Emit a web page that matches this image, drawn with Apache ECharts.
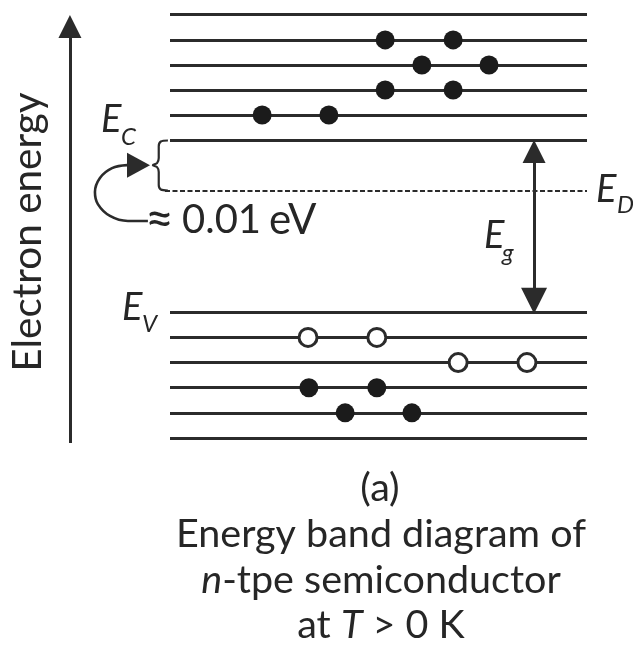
<!DOCTYPE html>
<html>
<head>
<meta charset="utf-8">
<script src="https://cdn.jsdelivr.net/npm/echarts@6/dist/echarts.min.js"></script>
<style>
html,body{margin:0;padding:0;background:#fff;}
#chart{width:633px;height:646px;}
</style>
</head>
<body>
<div id="chart"></div>
<script>
// ---- data (band position 0..100 across the band; energy in arbitrary units) ----
const bandStart = 0;
const bandEnd = 100;
const valenceLevels = [0, 1, 2, 3, 4, 5];           // Ev = 5
const conductionLevels = [11.85, 12.84, 13.84, 14.83, 15.83, 16.84]; // Ec = 11.85
const donorLevel = 9.85;
const Ev = 5;
const Ec = 11.85;
const conductionElectrons = [
  [22.1, 12.84], [38.1, 12.84],
  [51.6, 13.84], [67.9, 13.84],
  [60.4, 14.83], [76.5, 14.83],
  [51.6, 15.83], [67.9, 15.83]
];
const valenceElectrons = [
  [33.3, 2], [49.6, 2],
  [42.0, 1], [58.0, 1]
];
const holes = [
  [33.1, 4], [49.6, 4],
  [69.1, 3], [85.6, 3]
];
const energyAxisX = -24;
const energyAxisRange = [-0.2, 16.82];
const gapArrowX = 87.3;

// brace between Ec and donor level (left of band)
const bracePts = [
  [-0.5, 11.83], [-2.2, 11.79], [-2.7, 11.6], [-2.7, 11.13], [-3.1, 10.93], [-4.1, 10.85],
  [-3.1, 10.77], [-2.7, 10.58], [-2.7, 10.06], [-2.2, 9.88], [-0.5, 9.84]
];
// curved arrow (electron excitation from donor level)
const curvePts = [
  [-5.3, 8.63], [-10.1, 8.63], [-14.4, 8.83], [-17.3, 9.30], [-18.0, 9.78],
  [-16.8, 10.34], [-13.9, 10.73], [-10.3, 10.85]
];
const curveHead = [-7.55, 10.85];

const ink = '#2b2b2b';
const textInk = '#262626';
const headHalf = 0.457; // half the arrow-head length, in energy units
const chart = echarts.init(document.getElementById('chart'), null, {renderer: 'canvas'});

const levelLines = valenceLevels.concat(conductionLevels).map(v => ({coords: [[bandStart, v], [bandEnd, v]]}));

const option = {
  backgroundColor: '#ffffff',
  animation: false,
  grid: {left: 0, right: 0, top: 0, bottom: 0},
  xAxis: {type: 'value', min: -40.767, max: 111.03, show: false},
  yAxis: {type: 'value', min: -8.27, max: 17.416, show: false},
  series: [
    {
      type: 'lines', coordinateSystem: 'cartesian2d', z: 2,
      lineStyle: {color: ink, width: 3, opacity: 1},
      data: levelLines
    },
    {
      type: 'lines', coordinateSystem: 'cartesian2d', z: 2,
      lineStyle: {color: ink, width: 2.2, type: [5, 2.5], opacity: 1},
      data: [{coords: [[-1.2, donorLevel], [bandEnd, donorLevel]]}]
    },
    {
      type: 'lines', coordinateSystem: 'cartesian2d', z: 3,
      symbol: ['none', 'triangle'], symbolSize: [26, 23],
      lineStyle: {color: ink, width: 3, opacity: 1},
      itemStyle: {color: ink, opacity: 1},
      data: [{coords: [[energyAxisX, energyAxisRange[0]], [energyAxisX, energyAxisRange[1] - headHalf]]}]
    },
    {
      type: 'lines', coordinateSystem: 'cartesian2d', z: 3,
      symbol: ['triangle', 'triangle'], symbolSize: [26, 23],
      lineStyle: {color: ink, width: 3, opacity: 1},
      itemStyle: {color: ink, opacity: 1},
      data: [{coords: [[gapArrowX, Ev + headHalf], [gapArrowX, Ec - headHalf]]}]
    },
    {
      type: 'line', z: 3, data: bracePts, showSymbol: false, symbol: 'none', smooth: 0.3,
      lineStyle: {color: ink, width: 2.2}
    },
    {
      type: 'line', z: 3, data: curvePts, showSymbol: false, symbol: 'none', smooth: 0.4,
      lineStyle: {color: ink, width: 2.6}
    },
    {
      type: 'scatter', z: 4, data: [curveHead], symbol: 'triangle', symbolSize: [25, 23],
      symbolRotate: -90, itemStyle: {color: ink, opacity: 1}
    },
    {
      type: 'scatter', z: 5, data: conductionElectrons.concat(valenceElectrons),
      symbol: 'circle', symbolSize: 19, itemStyle: {color: '#1b1b1b', opacity: 1}
    },
    {
      type: 'scatter', z: 5, data: holes,
      symbol: 'circle', symbolSize: 18,
      itemStyle: {color: '#ffffff', borderColor: ink, borderWidth: 3, opacity: 1}
    }
  ],
  graphic: [
    {type: 'text', rotation: Math.PI / 2, x: 28, y: 232,
     style: {text: 'Electron energy', font: '40.5px Lato', fill: textInk, textAlign: 'center', textVerticalAlign: 'middle'}},
    {type: 'text', x: 101, y: 120, style: {text: 'E', font: 'italic 38px Lato', fill: textInk, textVerticalAlign: 'middle'}},
    {type: 'text', x: 121, y: 137, style: {text: 'C', font: 'italic 24px Lato', fill: textInk, textVerticalAlign: 'middle'}},
    {type: 'text', x: 596, y: 190, style: {text: 'E', font: 'italic 38px Lato', fill: textInk, textVerticalAlign: 'middle'}},
    {type: 'text', x: 617, y: 205, style: {text: 'D', font: 'italic 24px Lato', fill: textInk, textVerticalAlign: 'middle'}},
    {type: 'text', x: 484, y: 236, style: {text: 'E', font: 'italic 38px Lato', fill: textInk, textVerticalAlign: 'middle'}},
    {type: 'text', x: 502, y: 253, style: {text: 'g', font: 'italic 24px Lato', fill: textInk, textVerticalAlign: 'middle'}},
    {type: 'text', x: 122, y: 308, style: {text: 'E', font: 'italic 38px Lato', fill: textInk, textVerticalAlign: 'middle'}},
    {type: 'text', x: 142, y: 324, style: {text: 'V', font: 'italic 24px Lato', fill: textInk, textVerticalAlign: 'middle'}},
    {type: 'text', x: 145, y: 220, style: {
      text: '{a|\u2248}{r|0.01}{s|eV}', textVerticalAlign: 'middle',
      rich: {a: {font: '50px Lato', fill: textInk, padding: [0, 8, 0, 0]},
             r: {font: '40px Lato', fill: textInk, padding: [0, 8, 0, 0]},
             s: {font: '42px Lato', fill: textInk}}}},
    {type: 'text', x: 380, y: 488, style: {text: '(a)', font: '39.5px Lato', fill: textInk, textAlign: 'center', textVerticalAlign: 'middle'}},
    {type: 'text', x: 381, y: 534, style: {text: 'Energy band diagram of', font: '39.5px Lato', fill: textInk, textAlign: 'center', textVerticalAlign: 'middle'}},
    {type: 'text', x: 381, y: 580, style: {
      text: '{i|n}{r|-tpe semiconductor}', textAlign: 'center', textVerticalAlign: 'middle',
      rich: {i: {font: 'italic 39.5px Lato', fill: textInk}, r: {font: '39.5px Lato', fill: textInk}}}},
    {type: 'text', x: 381, y: 625, style: {
      text: '{r|at }{i|T}{r| > 0 K}', textAlign: 'center', textVerticalAlign: 'middle',
      rich: {i: {font: 'italic 39.5px Lato', fill: textInk}, r: {font: '39.5px Lato', fill: textInk}}}}
  ]
};
chart.setOption(option);
</script>
</body>
</html>
